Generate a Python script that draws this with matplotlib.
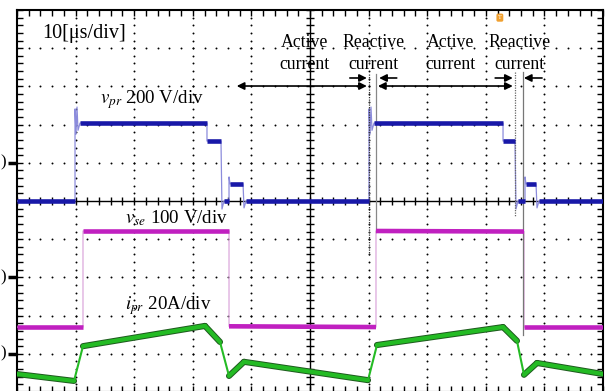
import matplotlib.pyplot as plt
import numpy as np

plt.rcParams['font.family'] = ['Liberation Serif', 'DejaVu Serif']
plt.rcParams['mathtext.fontset'] = 'stix'

# time in microseconds (10 us/div), amplitude in screen divisions
vpr_t = [0, 9.9, 9.9, 10.07, 10.24, 10.41, 10.75, 32.42, 32.42, 34.81, 34.98, 35.32,
         36.18, 36.18, 36.35, 38.57, 38.74, 39.08, 60.07, 60.07, 60.24, 60.41, 60.58,
         60.92, 82.94, 82.94, 84.98, 85.15, 85.49, 86.69, 86.69, 86.86, 88.57, 88.74,
         89.08, 100]
vpr_v = [0, 0, 2.41, 1.75, 2.46, 1.85, 2.04, 2.04, 1.57, 1.57, -0.21, 0,
         0, 0.63, 0.45, 0.45, -0.18, 0, 0, 2.41, 1.75, 2.46, 1.85,
         2.04, 2.04, 1.57, 1.57, -0.21, 0, 0, 0.63, 0.45, 0.45, -0.18,
         0, 0]

vse_t = [0, 11.26, 11.26, 36.18, 36.18, 61.26, 61.26, 86.52, 86.52, 100]
vse_v = [-3.30, -3.30, -0.785, -0.785, -3.28, -3.30, -0.785, -0.80, -3.30, -3.30]

ipr_t = [0, 9.73, 11.26, 32.08, 34.64, 36.18, 38.74, 59.9, 61.43, 82.94, 85.32,
         86.52, 88.74, 100]
ipr_v = [-4.53, -4.71, -3.80, -3.27, -3.69, -4.58, -4.21, -4.69, -3.77, -3.30, -3.66,
         -4.55, -4.24, -4.53]

fig = plt.figure(figsize=(6.12, 3.91), dpi=100)
ax = fig.add_axes([17 / 612, -1 / 391, 586 / 612, 382 / 391])
ax.set_xlim(0, 100)
ax.set_ylim(-5, 5)

# scope graticule
minor_t = np.arange(0, 100.1, 2)
minor_v = np.arange(-5, 5.01, 0.2)
for t in range(10, 100, 10):
    if t != 50:
        ax.plot([t] * len(minor_v), minor_v, ls='none', marker='o', ms=1.4,
                color='k', mec='none', zorder=1)
for v in range(-4, 5):
    if v != 0:
        ax.plot(minor_t, [v] * len(minor_t), ls='none', marker='o', ms=1.4,
                color='k', mec='none', zorder=1)
ax.axhline(0, color='k', lw=1, zorder=1)
ax.axvline(50, color='k', lw=1, zorder=1)
ax.plot(minor_t, [0] * len(minor_t), ls='none', marker='|', ms=6, mew=1, color='k', zorder=1)
ax.plot([50] * len(minor_v), minor_v, ls='none', marker='_', ms=6, mew=1, color='k', zorder=1)

ax.set_xticks(minor_t)
ax.set_yticks(minor_v)
ax.tick_params(direction='in', length=4, width=1, top=True, right=True,
               labelbottom=False, labelleft=False)
for s in ax.spines.values():
    s.set_linewidth(1.5)


def trace(t, v, dark, light, lw):
    ax.plot(t, v, color=light, lw=0.9, zorder=3)
    for i in range(len(t) - 1):
        if abs(v[i + 1] - v[i]) < 0.3 * max(t[i + 1] - t[i], 0.01):
            ax.plot(t[i:i + 2], v[i:i + 2], color=dark, lw=lw, zorder=4,
                    solid_capstyle='butt')


trace(vpr_t, vpr_v, '#1818a8', '#8c8cdc', 3.3)
trace(vse_t, vse_v, '#c020c0', '#dca8dc', 3.3)
# current: dark fringe under a green band
for i in range(len(ipr_t) - 1):
    steep = abs(ipr_v[i + 1] - ipr_v[i]) / (ipr_t[i + 1] - ipr_t[i]) > 0.3
    if not steep:
        ax.plot(ipr_t[i:i + 2], ipr_v[i:i + 2], color='#1e5a1e', lw=4.4, zorder=4,
                solid_capstyle='round')
        ax.plot(ipr_t[i:i + 2], ipr_v[i:i + 2], color='#24bb24', lw=3.0, zorder=5,
                solid_capstyle='round')
    else:
        ax.plot(ipr_t[i:i + 2], ipr_v[i:i + 2], color='#24bb24', lw=1.5, zorder=5)

# interval markers
ax.plot([60.07, 60.07], [3.32, -1.44], color='#333333', lw=0.9, ls=(0, (1, 1)), zorder=3)
ax.plot([61.3, 61.3], [3.32, -0.8], color='#888888', lw=0.9, zorder=3)
ax.plot([85.0, 85.0], [3.38, -0.4], color='#666666', lw=0.9, ls=(0, (1, 1)), zorder=3)
ax.plot([86.35, 86.35], [3.38, -3.5], color='#777777', lw=0.9, zorder=3)

arrow2 = dict(arrowstyle='<|-|>', color='k', lw=1.2, mutation_scale=11, shrinkA=0, shrinkB=0)
arrow1 = dict(arrowstyle='-|>', color='k', lw=1.2, mutation_scale=11, shrinkA=0, shrinkB=0)
ax.annotate('', xy=(59.7, 3.01), xytext=(37.5, 3.01), arrowprops=arrow2, zorder=6)
ax.annotate('', xy=(84.6, 3.01), xytext=(61.6, 3.01), arrowprops=arrow2, zorder=6)
ax.annotate('', xy=(59.7, 3.22), xytext=(56.8, 3.22), arrowprops=arrow1, zorder=6)
ax.annotate('', xy=(61.8, 3.22), xytext=(64.8, 3.22), arrowprops=arrow1, zorder=6)
ax.annotate('', xy=(84.6, 3.22), xytext=(81.6, 3.22), arrowprops=arrow1, zorder=6)
ax.annotate('', xy=(86.5, 3.22), xytext=(89.6, 3.22), arrowprops=arrow1, zorder=6)

# texts
ax.text(4.27, 4.27, '10[μs/div]', fontsize=14.5, ha='left', va='baseline')
ax.text(14.2, 2.57, r'$v_{pr}$ 200 V/div', fontsize=13.6, ha='left', va='baseline')
ax.text(18.4, -0.58, r'$v_{se}$ 100 V/div', fontsize=13.6, ha='left', va='baseline')
ax.text(18.4, -2.83, r'$i_{pr}$ 20A/div', fontsize=13.6, ha='left', va='baseline')
for xc, word in [(49.1, 'Active'), (60.9, 'Reactive'), (73.9, 'Active'), (85.7, 'Reactive')]:
    ax.text(xc, 4.03, word, fontsize=12.8, ha='center', va='baseline')
    ax.text(xc, 3.46, 'current', fontsize=12.8, ha='center', va='baseline')

# trigger marker
ax.text(82.4, 4.80, 'T', fontsize=4.5, color='white', ha='center', va='center',
        bbox=dict(boxstyle='round,pad=0.25', fc='#f0a030', ec='none'), zorder=7)

# channel reference markers at the left edge
for v in [1.0, -2.0, -4.0]:
    ax.text(-2.85, v, ')', fontsize=12, ha='left', va='center', clip_on=False)
    ax.plot([-1.6, 0], [v, v], color='k', lw=2.5, clip_on=False, solid_capstyle='butt')

fig.savefig('out.png', dpi=100)
